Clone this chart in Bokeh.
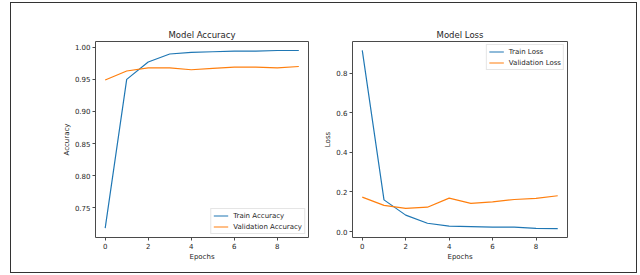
from bokeh.plotting import figure
from bokeh.layouts import row, column, Spacer
from bokeh.models import Range1d, FixedTicker, PrintfTickFormatter, Legend, LegendItem
from bokeh.embed import file_html
from bokeh.resources import INLINE

epochs = [0, 1, 2, 3, 4, 5, 6, 7, 8, 9]
train_acc = [0.718, 0.950, 0.977, 0.9895, 0.992, 0.993, 0.994, 0.994, 0.995, 0.995]
val_acc = [0.949, 0.963, 0.968, 0.968, 0.965, 0.967, 0.969, 0.969, 0.968, 0.970]
train_loss = [0.915, 0.160, 0.083, 0.042, 0.027, 0.025, 0.022, 0.022, 0.016, 0.015]
val_loss = [0.174, 0.132, 0.117, 0.123, 0.169, 0.142, 0.150, 0.162, 0.168, 0.181]

acc_ticks = [0.75, 0.80, 0.85, 0.90, 0.95, 1.00]
loss_ticks = [0.0, 0.2, 0.4, 0.6, 0.8]
x_ticks = [0, 2, 4, 6, 8]

FONT = "DejaVu Sans"
BLUE = "#1f77b4"
ORANGE = "#ff7f0e"
TXT = "#262626"
SPINE = "#4a4a4a"


def make_fig(title, ylabel, yr, yticks, yfmt, width, mbl, mbr):
    p = figure(width=width, height=269, output_backend="svg", toolbar_location=None,
               x_range=Range1d(-0.45, 9.45), y_range=Range1d(*yr),
               min_border_left=mbl, min_border_right=mbr,
               min_border_top=38, min_border_bottom=35)
    p.title.text = title
    p.title.text_font = FONT
    p.title.text_font_size = "8.5px"
    p.title.text_font_style = "normal"
    p.title.text_color = TXT
    p.title.align = "center"
    p.title.standoff = 3
    p.grid.visible = False
    p.outline_line_color = SPINE
    p.outline_line_width = 1
    for ax in (p.xaxis[0], p.yaxis[0]):
        ax.axis_line_color = None
        ax.major_tick_line_color = SPINE
        ax.major_tick_out = 3
        ax.major_tick_in = 0
        ax.minor_tick_line_color = None
        ax.major_label_text_font = FONT
        ax.major_label_text_font_size = "7px"
        ax.major_label_text_color = TXT
        ax.major_label_standoff = 2
        ax.axis_label_text_font = FONT
        ax.axis_label_text_font_size = "7px"
        ax.axis_label_text_font_style = "normal"
        ax.axis_label_text_color = TXT
        ax.axis_label_standoff = 1
    p.xaxis.ticker = FixedTicker(ticks=x_ticks)
    p.yaxis.ticker = FixedTicker(ticks=yticks)
    p.yaxis.formatter = PrintfTickFormatter(format=yfmt)
    p.xaxis.axis_label = "Epochs"
    p.yaxis.axis_label = ylabel
    return p


p1 = make_fig("Model Accuracy", "Accuracy", (0.7035, 1.009), acc_ticks, "%.2f", 304, 84, 7)
r1 = p1.line(epochs, train_acc, line_color=BLUE, line_width=1.2)
r2 = p1.line(epochs, val_acc, line_color=ORANGE, line_width=1.2)

p2 = make_fig("Model Loss", "Loss", (-0.03, 0.96), loss_ticks, "%.1f", 321, 37, 69)
r3 = p2.line(epochs, train_loss, line_color=BLUE, line_width=1.2)
r4 = p2.line(epochs, val_loss, line_color=ORANGE, line_width=1.2)


def add_legend(p, items, loc):
    lg = Legend(items=items, location=loc)
    lg.label_text_font = FONT
    lg.label_text_font_size = "7px"
    lg.label_text_color = TXT
    lg.label_height = 9
    lg.label_standoff = 5
    lg.glyph_width = 15
    lg.glyph_height = 9
    lg.spacing = 2
    lg.padding = 2
    lg.margin = 3
    lg.border_line_color = "#cccccc"
    lg.border_line_width = 1
    lg.background_fill_alpha = 0.8
    p.add_layout(lg)


add_legend(p1, [LegendItem(label="Train Accuracy", renderers=[r1]),
                LegendItem(label="Validation Accuracy", renderers=[r2])], "bottom_right")
add_legend(p2, [LegendItem(label="Train Loss", renderers=[r3]),
                LegendItem(label="Validation Loss", renderers=[r4])], "top_right")

inner = row(p1, p2, styles={"border": "1px solid #333333"})
layout = column(Spacer(width=640, height=2),
                row(Spacer(width=10, height=271), inner, Spacer(width=3, height=271)),
                Spacer(width=640, height=2))

open("out.html", "w").write(file_html(layout, INLINE))
